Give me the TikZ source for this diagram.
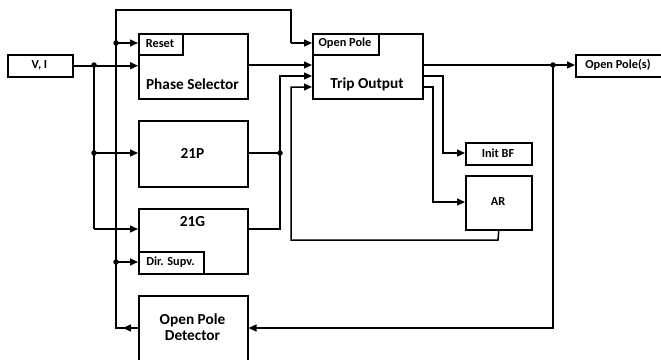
\documentclass[tikz,border=0pt]{standalone}
\usepackage{fontspec}
\setmainfont{Carlito}
\usetikzlibrary{arrows.meta}
\begin{document}
\begin{tikzpicture}[x=1pt,y=-1pt,
  box/.style={draw=black,line width=1.5pt,anchor=north west,inner sep=0pt},
  big/.style={font=\bfseries\fontsize{15.3}{17}\selectfont,inner sep=0pt,align=center},
  small/.style={font=\bfseries\fontsize{12.3}{14}\selectfont,inner sep=0pt},
  wire/.style={line width=1.5pt,draw=black},
  arr/.style={wire,-{Triangle[length=8pt,width=7pt]}},
  dot/.style={circle,fill=black,inner sep=0pt,minimum size=5.5pt}]
\useasboundingbox (0,0) rectangle (661,359);
% boxes
\node[box,minimum width=65pt,minimum height=22pt] (vi) at (7,54) {};
\node[small] (vilbl) at (39.5,65) {V, I};
\node[box,minimum width=109pt,minimum height=65pt] (ps) at (138,33) {};
\node[box,minimum width=44pt,minimum height=21pt] (reset) at (138,33) {};
\node[small] (resetlbl) at (160,43.5) {Reset};
\node[big] (pslbl) at (192.5,84) {Phase Selector};
\node[box,minimum width=109pt,minimum height=66pt] (zp) at (138,120) {};
\node[big] (zplbl) at (192.5,153) {21P};
\node[box,minimum width=109pt,minimum height=65pt] (zg) at (138,208) {};
\node[big] (zglbl) at (192.5,222) {21G};
\node[box,minimum width=65pt,minimum height=22pt] (ds) at (138,251) {};
\node[small] (dslbl) at (170.5,262) {Dir. Supv.};
\node[box,minimum width=109pt,minimum height=75pt] (opd) at (138,295) {};
\node[big] (opdlbl) at (192.5,327) {Open Pole\\[-1pt]Detector};
\node[box,minimum width=110pt,minimum height=65pt] (trip) at (312,33) {};
\node[box,minimum width=66pt,minimum height=21pt] (op) at (312,33) {};
\node[small] (oplbl) at (345,43.5) {Open Pole};
\node[big] (triplbl) at (367,84) {Trip Output};
\node[box,minimum width=66pt,minimum height=22pt] (bf) at (465,142) {};
\node[small] (bflbl) at (498,153) {Init BF};
\node[box,minimum width=66pt,minimum height=54pt] (ar) at (465,175) {};
\node[small] (arlbl) at (498,202) {AR};
\node[box,minimum width=100pt,minimum height=22pt] (ops) at (575,54) {};
\node[small] (opslbl) at (618,65) {Open Pole(s)};
% junctions
\node[dot] (j1) at (94,65) {};
\node[dot] (j2) at (94,153) {};
\node[dot] (j3) at (116,43) {};
\node[dot] (j4) at (116,262) {};
\node[dot] (j5) at (280,153) {};
\node[dot] (j6) at (553,65) {};
\coordinate (c1) at (94,229);
\coordinate (c2) at (116,328);
\coordinate (c3) at (116,10);
\coordinate (c4) at (291,10);
\coordinate (c5) at (291,43);
\coordinate (c6) at (280,229);
\coordinate (c7) at (280,76);
\coordinate (c8) at (498,240);
\coordinate (c9) at (291,240);
\coordinate (c10) at (291,87);
\coordinate (t1) at (422,65);
\coordinate (t2) at (422,76);
\coordinate (t3) at (422,87);
\coordinate (c11) at (443,76);
\coordinate (c12) at (443,153);
\coordinate (c13) at (433,87);
\coordinate (c14) at (433,202);
\coordinate (c15) at (553,328);
\coordinate (c16) at (123,328);
% connectors
\draw[arr] (vi.east) -- (ps.west |- vi.east);
\draw[wire] (j1.center) -- (c1);
\draw[arr] (c1) -- (zg.west |- c1);
\draw[arr] (j2.center) -- (zp.west |- j2.center);
\draw[wire] (opd.west |- c2) -- (c2) -- (c3) -- (c4) -- (c5);
\draw[arr] (opd.west |- c2) -- (c16);
\draw[arr] (c5) -- (trip.west |- c5);
\draw[arr] (j3.center) -- (reset.west |- j3.center);
\draw[arr] (j4.center) -- (ds.west |- j4.center);
\draw[arr] (ps.east |- t1) -- (trip.west |- t1);
\draw[wire] (zp.east |- j5) -- (j5.center);
\draw[arr] (zg.east |- c6) -- (c6) -- (c7) -- (trip.west |- c7);
\draw[arr] (ar.south) -- (c8) -- (c9) -- (c10) -- (trip.west |- c10);
\draw[arr] (t1) -- (ops.west |- t1);
\draw[arr] (j6.center) -- (c15) -- (opd.east |- c15);
\draw[arr] (t2) -- (c11) -- (c12) -- (bf.west |- c12);
\draw[arr] (t3) -- (c13) -- (c14) -- (ar.west |- c14);
\end{tikzpicture}
\end{document}
